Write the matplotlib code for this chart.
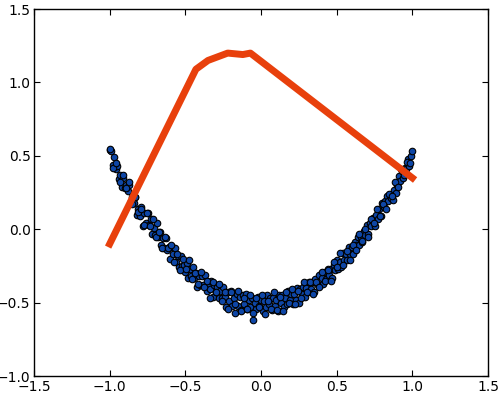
import matplotlib
matplotlib.use("Agg")
import matplotlib.pyplot as plt

x_pts = [
    -1.00, -0.99, -0.98, -0.97, -0.96, -0.95, -0.94, -0.93, -0.92, -0.91,
    -0.90, -0.89, -0.88, -0.87, -0.86, -0.85, -0.84, -0.83, -0.82, -0.81,
    -0.80, -0.79, -0.78, -0.77, -0.76, -0.75, -0.74, -0.73, -0.72, -0.71,
    -0.70, -0.69, -0.68, -0.67, -0.66, -0.65, -0.64, -0.63, -0.62, -0.61,
    -0.60, -0.59, -0.58, -0.57, -0.56, -0.55, -0.54, -0.53, -0.52, -0.51,
    -0.50, -0.49, -0.48, -0.47, -0.46, -0.45, -0.44, -0.43, -0.42, -0.41,
    -0.40, -0.39, -0.38, -0.37, -0.36, -0.35, -0.34, -0.33, -0.32, -0.31,
    -0.30, -0.29, -0.28, -0.27, -0.26, -0.25, -0.24, -0.23, -0.22, -0.21,
    -0.20, -0.19, -0.18, -0.17, -0.16, -0.15, -0.14, -0.13, -0.12, -0.11,
    -0.10, -0.09, -0.08, -0.07, -0.06, -0.05, -0.04, -0.03, -0.02, -0.01,
    0.00, 0.01, 0.02, 0.03, 0.04, 0.05, 0.06, 0.07, 0.08, 0.09,
    0.10, 0.11, 0.12, 0.13, 0.14, 0.15, 0.16, 0.17, 0.18, 0.19,
    0.20, 0.21, 0.22, 0.23, 0.24, 0.25, 0.26, 0.27, 0.28, 0.29,
    0.30, 0.31, 0.32, 0.33, 0.34, 0.35, 0.36, 0.37, 0.38, 0.39,
    0.40, 0.41, 0.42, 0.43, 0.44, 0.45, 0.46, 0.47, 0.48, 0.49,
    0.50, 0.51, 0.52, 0.53, 0.54, 0.55, 0.56, 0.57, 0.58, 0.59,
    0.60, 0.61, 0.62, 0.63, 0.64, 0.65, 0.66, 0.67, 0.68, 0.69,
    0.70, 0.71, 0.72, 0.73, 0.74, 0.75, 0.76, 0.77, 0.78, 0.79,
    0.80, 0.81, 0.82, 0.83, 0.84, 0.85, 0.86, 0.87, 0.88, 0.89,
    0.90, 0.91, 0.92, 0.93, 0.94, 0.95, 0.96, 0.97, 0.98, 0.99,
    1.00,
]

y_pts = [
    0.54, 0.53, 0.44, 0.49, 0.41, 0.43, 0.34, 0.37, 0.29, 0.35,
    0.28, 0.30, 0.26, 0.30, 0.19, 0.22, 0.18, 0.22, 0.10, 0.14,
    0.09, 0.15, 0.02, 0.11, 0.04, 0.11, 0.03, 0.07, -0.03, 0.01,
    -0.04, 0.04, -0.05, -0.02, -0.11, -0.06, -0.13, -0.06, -0.14, -0.12,
    -0.20, -0.12, -0.17, -0.13, -0.22, -0.18, -0.26, -0.18, -0.25, -0.24,
    -0.29, -0.23, -0.33, -0.27, -0.32, -0.26, -0.33, -0.30, -0.39, -0.32,
    -0.38, -0.32, -0.38, -0.31, -0.42, -0.38, -0.41, -0.35, -0.46, -0.38,
    -0.43, -0.39, -0.47, -0.42, -0.47, -0.39, -0.46, -0.53, -0.43, -0.49,
    -0.42, -0.52, -0.47, -0.57, -0.44, -0.52, -0.46, -0.55, -0.45, -0.51,
    -0.44, -0.54, -0.48, -0.53, -0.47, -0.62, -0.50, -0.54, -0.46, -0.52,
    -0.48, -0.56, -0.49, -0.53, -0.45, -0.51, -0.47, -0.55, -0.47, -0.52,
    -0.48, -0.56, -0.45, -0.50, -0.45, -0.53, -0.47, -0.51, -0.42, -0.48,
    -0.44, -0.51, -0.44, -0.48, -0.40, -0.50, -0.41, -0.44, -0.39, -0.46,
    -0.40, -0.43, -0.36, -0.41, -0.36, -0.43, -0.34, -0.37, -0.31, -0.38,
    -0.33, -0.37, -0.29, -0.34, -0.27, -0.31, -0.27, -0.33, -0.24, -0.28,
    -0.21, -0.27, -0.22, -0.26, -0.16, -0.21, -0.17, -0.21, -0.12, -0.17,
    -0.12, -0.17, -0.09, -0.11, -0.05, -0.11, -0.05, -0.09, -0.01, -0.04,
    0.03, -0.03, 0.04, 0.02, 0.08, 0.02, 0.10, 0.07, 0.14, 0.09,
    0.18, 0.15, 0.19, 0.23, 0.19, 0.23, 0.21, 0.20, 0.27, 0.25,
    0.30, 0.36, 0.33, 0.40, 0.35, 0.42, 0.41, 0.48, 0.43, 0.50,
    0.53,
]

x_pts2 = [
    -0.995, -0.975, -0.955, -0.935, -0.915, -0.895, -0.875, -0.855, -0.835, -0.815,
    -0.795, -0.775, -0.755, -0.735, -0.715, -0.695, -0.675, -0.655, -0.635, -0.615,
    -0.595, -0.575, -0.555, -0.535, -0.515, -0.495, -0.475, -0.455, -0.435, -0.415,
    -0.395, -0.375, -0.355, -0.335, -0.315, -0.295, -0.275, -0.255, -0.235, -0.215,
    -0.195, -0.175, -0.155, -0.135, -0.115, -0.095, -0.075, -0.055, -0.035, -0.015,
    0.005, 0.025, 0.045, 0.065, 0.085, 0.105, 0.125, 0.145, 0.165, 0.185,
    0.205, 0.225, 0.245, 0.265, 0.285, 0.305, 0.325, 0.345, 0.365, 0.385,
    0.405, 0.425, 0.445, 0.465, 0.485, 0.505, 0.525, 0.545, 0.565, 0.585,
    0.605, 0.625, 0.645, 0.665, 0.685, 0.705, 0.725, 0.745, 0.765, 0.785,
    0.805, 0.825, 0.845, 0.865, 0.885, 0.905, 0.925, 0.945, 0.965, 0.985,
]

y_pts2 = [
    0.55, 0.42, 0.45, 0.32, 0.37, 0.28, 0.32, 0.17, 0.22, 0.12,
    0.14, 0.03, 0.11, 0.02, 0.07, -0.05, -0.02, -0.13, -0.05, -0.13,
    -0.11, -0.22, -0.17, -0.28, -0.20, -0.27, -0.21, -0.34, -0.30, -0.37,
    -0.29, -0.39, -0.35, -0.47, -0.36, -0.43, -0.37, -0.49, -0.43, -0.54,
    -0.43, -0.51, -0.42, -0.56, -0.47, -0.54, -0.45, -0.57, -0.47, -0.53,
    -0.45, -0.58, -0.49, -0.54, -0.43, -0.55, -0.46, -0.56, -0.43, -0.50,
    -0.41, -0.51, -0.42, -0.47, -0.36, -0.43, -0.36, -0.44, -0.36, -0.39,
    -0.29, -0.35, -0.28, -0.35, -0.22, -0.26, -0.16, -0.24, -0.15, -0.21,
    -0.11, -0.14, -0.03, -0.08, 0.00, -0.05, 0.07, 0.04, 0.14, 0.09,
    0.17, 0.14, 0.24, 0.23, 0.32, 0.29, 0.41, 0.37, 0.46, 0.45,
]

line_x = [-1.00, -0.43, -0.35, -0.22, -0.12, -0.07, 1.00]
line_y = [-0.10, 1.09, 1.15, 1.20, 1.19, 1.20, 0.35]

xticks = [-1.5, -1.0, -0.5, 0.0, 0.5, 1.0, 1.5]
yticks = [-1.0, -0.5, 0.0, 0.5, 1.0, 1.5]

fig = plt.figure(figsize=(5.0, 3.93), dpi=100, facecolor="white")
ax = fig.add_axes([0.068, 0.043, 0.908, 0.934])
scatter_style = dict(s=22, c="#0e46a6", edgecolors="black", linewidths=0.8, zorder=2)
ax.scatter(x_pts, y_pts, **scatter_style)
ax.scatter(x_pts2, y_pts2, **scatter_style)
ax.plot(line_x, line_y, color="#e8400c", lw=5, zorder=3, solid_joinstyle="round")

ax.set_xlim(-1.5, 1.5)
ax.set_ylim(-1.0, 1.5)
ax.set_xticks(xticks)
ax.set_yticks(yticks)
ax.set_xticklabels([f"{v:.1f}".replace("-", "\u2212") for v in xticks])
ax.set_yticklabels([f"{v:.1f}".replace("-", "\u2212") for v in yticks])
ax.tick_params(direction="in", top=True, right=True, length=4, width=0.8,
               labelsize=10, pad=2.5)
for sp in ax.spines.values():
    sp.set_linewidth(1.0)

fig.savefig("out.png", dpi=100, facecolor="white")
